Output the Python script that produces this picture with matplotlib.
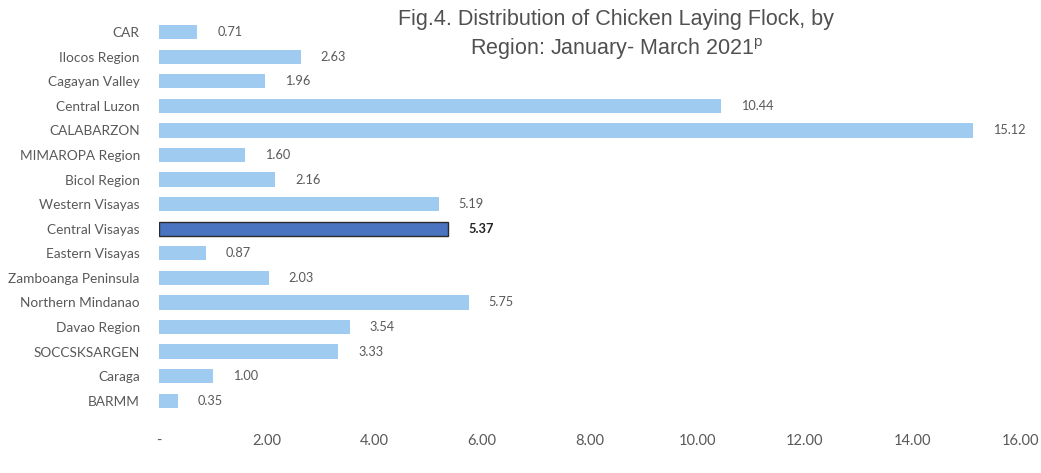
import numpy as np
import matplotlib.pyplot as plt

# Regional share of chicken laying flock, Jan-Mar 2021
regions = ['CAR', 'Ilocos Region', 'Cagayan Valley', 'Central Luzon', 'CALABARZON',
           'MIMAROPA Region', 'Bicol Region', 'Western Visayas', 'Central Visayas',
           'Eastern Visayas', 'Zamboanga Peninsula', 'Northern Mindanao', 'Davao Region',
           'SOCCSKSARGEN', 'Caraga', 'BARMM']
values = [0.71, 2.63, 1.96, 10.44, 15.12, 1.60, 2.16, 5.19, 5.37,
          0.87, 2.03, 5.75, 3.54, 3.33, 1.00, 0.35]
highlight = 'Central Visayas'

xticks = [0, 2, 4, 6, 8, 10, 12, 14, 16]
xticklabels = ['-', '2.00', '4.00', '6.00', '8.00', '10.00', '12.00', '14.00', '16.00']

label_font = 'Lato'
grey = '#595959'

fig = plt.figure(figsize=(10.41, 4.73), dpi=100)
ax = fig.add_axes([0.153, 0.127, 0.827, 0.831])

y = np.arange(len(regions))
colors = ['#4a74c0' if r == highlight else '#9fcbf1' for r in regions]
edges = ['#2b2b2b' if r == highlight else 'none' for r in regions]
ax.barh(y, values, height=0.58, color=colors, edgecolor=edges, linewidth=1.0)

for yi, v, r in zip(y, values, regions):
    bold = r == highlight
    ax.text(v + 0.37, yi, f'{v:.2f}', va='center', ha='left', fontsize=9.2,
            family=label_font, color='#222222' if bold else grey,
            fontweight='bold' if bold else 'normal')

ax.set_yticks(y)
ax.set_yticklabels(regions, family=label_font, fontsize=9.8, color=grey)
ax.set_ylim(len(regions) - 0.5, -0.5)
ax.set_xlim(0, 16)
ax.set_xticks(xticks)
ax.set_xticklabels(xticklabels, family=label_font, fontsize=10.5, color=grey)
ax.tick_params(axis='both', length=0)
ax.tick_params(axis='y', pad=14)
ax.tick_params(axis='x', pad=15)
for s in ax.spines.values():
    s.set_visible(False)

fig.text(0.592, 0.925, 'Fig.4. Distribution of Chicken Laying Flock, by\nRegion: January- March 2021$^{\\mathregular{p}}$',
         ha='center', va='center', fontsize=15.5, family='Liberation Sans', color='#505050',
         linespacing=1.3)

fig.savefig('out.png', dpi=100)
